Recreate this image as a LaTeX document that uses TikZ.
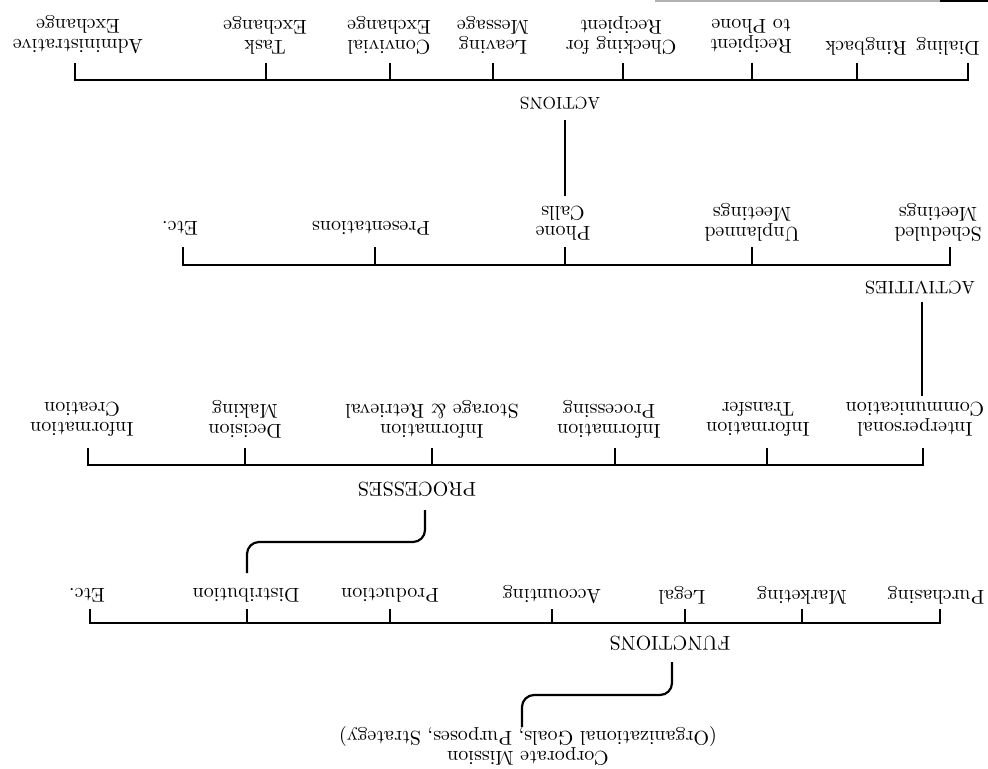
\documentclass[tikz,border=0pt]{standalone}
\begin{document}
\begin{tikzpicture}[x=0.5pt,y=-0.5pt,
  lbl/.style={rotate=180,align=center,inner sep=1pt,font=\fontsize{10}{10}\selectfont},
  headlbl/.style={rotate=180,inner sep=1pt,font=\fontsize{9.5}{10}\selectfont},
  bar/.style={line width=1.3pt},
  tick/.style={line width=0.7pt},
  thicktick/.style={line width=1.3pt},
  conn/.style={line width=1.4pt},
  curve/.style={line width=1.1pt,rounded corners=6pt},
]
\useasboundingbox (0,0) rectangle (988,769);

% page edge rule at top right
\draw[gray!60,line width=0.6pt] (655,1) -- (940,1);
\draw[line width=1.4pt] (940,1) -- (988,1);

% ---------------- ACTIONS level ----------------
\node[lbl] (adm)  at (78,35)  {Administrative\\Exchange};
\node[lbl] (task) at (265,35) {Task\\Exchange};
\node[lbl] (conv) at (389,35) {Convivial\\Exchange};
\node[lbl] (leav) at (493,35) {Leaving\\Message};
\node[lbl] (chk)  at (621,36) {Checking for\\Recipient};
\node[lbl] (rec)  at (751,36) {Recipient\\to Phone};
\node[lbl] (ring) at (866,46) {Ringback};
\node[lbl] (dial) at (948,46) {Dialing};
\foreach \n/\x in {adm/75,task/266,conv/390,leav/493,chk/623,rec/752,ring/857,dial/968}
  \coordinate (\n-t) at (\x,63);
\draw[bar] (adm-t) -- ++(0,17) -| (dial-t);
\foreach \n in {task,conv,leav,chk,rec,ring}
  \draw[tick] (\n-t) -- ++(0,17);

\node[headlbl,font=\fontsize{8.5}{10}\selectfont] (actions) at (560,103) {ACTIONS};

% ---------------- ACTIVITIES level ----------------
\node[lbl] (etca)  at (180,228) {Etc.};
\node[lbl] (pres)  at (371,228) {Presentations};
\node[lbl] (phone) at (563,223) {Phone\\Calls};
\node[lbl] (unpl)  at (752,222) {Unplanned\\Meetings};
\node[lbl] (sched) at (938,222) {Scheduled\\Meetings};
\foreach \n/\x in {etca/183,pres/375,phone/565,unpl/752,sched/950}
  \coordinate (\n-t) at (\x,247);
\draw[bar] (etca-t) -- ++(0,18) -| (sched-t);
\foreach \n in {pres,phone,unpl}
  \draw[tick] (\n-t) -- ++(0,18);

\coordinate (actions-b) at (565,120);
\coordinate (phone-top) at (565,196);
\draw[conn] (actions-b) -- (phone-top);

\node[headlbl,font=\fontsize{9}{10}\selectfont] (activ) at (920,288) {ACTIVITIES};

% ---------------- PROCESSES level ----------------
\node[lbl] (crea)  at (82,419)  {Information\\Creation};
\node[lbl] (deci)  at (245,419) {Decision\\Making};
\node[lbl] (stor)  at (432,419) {Information\\Storage \& Retrieval};
\node[lbl] (proc)  at (609,419) {Information\\Processing};
\node[lbl] (tran)  at (758,419) {Information\\Transfer};
\node[lbl] (inter) at (915,419) {Interpersonal\\Communication};
\foreach \n/\x in {crea/88,deci/245,stor/432,proc/615,tran/767,inter/923}
  \coordinate (\n-t) at (\x,448);
\draw[bar] (crea-t) -- ++(0,17) -| (inter-t);
\foreach \n in {deci,stor,proc,tran}
  \draw[tick] (\n-t) -- ++(0,17);
\draw[thicktick] (inter-t) -- ++(0,17);

\coordinate (activ-b) at (922,302);
\coordinate (inter-top) at (922,396);
\draw[conn] (activ-b) -- (inter-top);

\node[headlbl,font=\fontsize{10}{10}\selectfont] (procs) at (417,489) {PROCESSES};

% ---------------- FUNCTIONS level ----------------
\node[lbl] (etcf)  at (87,595)  {Etc.};
\node[lbl] (dist)  at (246,595) {Distribution};
\node[lbl] (prod)  at (390,595) {Production};
\node[lbl] (acct)  at (552,595) {Accounting};
\node[lbl] (legal) at (682,595) {Legal};
\node[lbl] (mark)  at (802,595) {Marketing};
\node[lbl] (purch) at (936,595) {Purchasing};
\foreach \n/\x in {etcf/90,dist/247,prod/390,acct/552,legal/685,mark/802,purch/940}
  \coordinate (\n-t) at (\x,609);
\draw[bar] (etcf-t) -- ++(0,14) -| (purch-t);
\foreach \n in {prod,acct,legal,mark}
  \draw[tick] (\n-t) -- ++(0,14);
\draw[thicktick] (dist-t) -- ++(0,14);

\coordinate (procs-b) at (425,510);
\coordinate (dist-top) at (247,573);
\draw[curve] (procs-b) |- (330,542) -| (dist-top);

\node[headlbl,font=\fontsize{10}{10}\selectfont] (funcs) at (670,643) {FUNCTIONS};

% ---------------- Corporate Mission ----------------
\node[lbl] (corp) at (528,746) {Corporate Mission\\(Organizational Goals, Purposes, Strategy)};

\coordinate (funcs-b) at (672,662);
\coordinate (corp-top) at (522,727);
\draw[curve] (funcs-b) |- (600,695) -| (corp-top);
\end{tikzpicture}
\end{document}
